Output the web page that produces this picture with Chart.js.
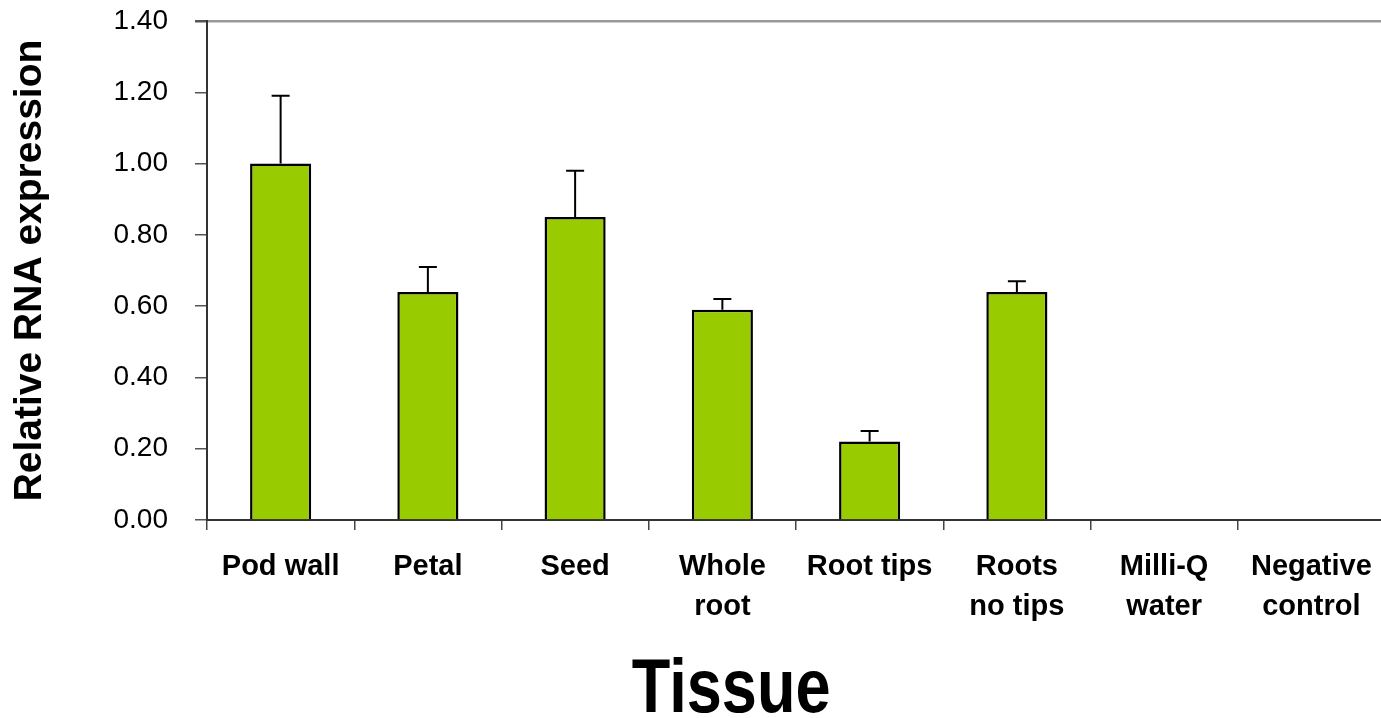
<!DOCTYPE html>
<html>
<head>
<meta charset="utf-8">
<script src="https://cdn.jsdelivr.net/npm/chart.js@4/dist/chart.umd.min.js"></script>
<style>
  html, body { margin: 0; padding: 0; background: #fff; overflow: hidden; }
  #wrap { position: relative; width: 1390px; height: 718px; }
</style>
</head>
<body>
<div id="wrap"><canvas id="chart"></canvas></div>
<script>
// Tissues sampled (multi-line labels as drawn under the axis)
const categories = [
  ['Pod wall'], ['Petal'], ['Seed'], ['Whole', 'root'], ['Root tips'],
  ['Roots', 'no tips'], ['Milli-Q', 'water'], ['Negative', 'control']
];
// Mean relative expression and upper error (SD) per tissue
const expression = [1.00, 0.64, 0.85, 0.59, 0.22, 0.64, 0, 0];
const errorUp    = [0.19, 0.07, 0.13, 0.03, 0.03, 0.03, 0, 0];
// Value axis range and spacing
const yMin = 0, yMax = 1.4, yStep = 0.2;

const FONT = "'Liberation Sans', Arial, Helvetica, sans-serif";

// Draws the upward error whiskers using the chart's own scales
const errorBars = {
  id: 'errorBars',
  afterDatasetsDraw(chart) {
    const meta = chart.getDatasetMeta(0);
    const yScale = chart.scales.y;
    const ctx = chart.ctx;
    ctx.save();
    ctx.strokeStyle = '#000';
    ctx.lineWidth = 2;
    meta.data.forEach((bar, i) => {
      const err = errorUp[i];
      if (!err) return;
      const top = yScale.getPixelForValue(expression[i] + err);
      const base = yScale.getPixelForValue(expression[i]);
      ctx.beginPath();
      ctx.moveTo(bar.x, base);
      ctx.lineTo(bar.x, top);
      ctx.moveTo(bar.x - 9, top);
      ctx.lineTo(bar.x + 9, top);
      ctx.stroke();
    });
    ctx.restore();
  }
};

// Axis caption "Tissue" in a horizontally condensed bold face
const tissueTitle = {
  id: 'tissueTitle',
  afterDraw(chart) {
    const ctx = chart.ctx;
    const a = chart.chartArea;
    const squeeze = 0.83;
    ctx.save();
    ctx.fillStyle = '#000';
    ctx.font = "bold 76px " + FONT;
    ctx.textAlign = 'center';
    ctx.textBaseline = 'alphabetic';
    ctx.translate(a.left + a.width * 0.445, chart.height - 6);
    ctx.scale(squeeze, 1);
    ctx.fillText('Tissue', 0, 0);
    ctx.restore();
  }
};

new Chart(document.getElementById('chart'), {
  type: 'bar',
  data: {
    labels: categories,
    datasets: [{
      data: expression,
      backgroundColor: '#99CC00',
      borderColor: '#000',
      borderWidth: 2.5,
      borderSkipped: 'start',
      categoryPercentage: 1,
      barPercentage: 0.415
    }]
  },
  options: {
    responsive: true,
    maintainAspectRatio: false,
    animation: false,
    layout: { padding: { top: 21, right: 5, left: 0, bottom: 0 } },
    plugins: { legend: { display: false }, tooltip: { enabled: false } },
    scales: {
      x: {
        afterFit(scale) { scale.height = 198; },
        grid: {
          offset: true,
          drawOnChartArea: false,
          drawTicks: true,
          tickLength: 10,
          color: '#444',
          lineWidth: 1.5
        },
        border: { display: true, color: '#333', width: 2 },
        ticks: {
          color: '#000',
          padding: 17,
          maxRotation: 0,
          autoSkip: false,
          font: { family: FONT, size: 29, weight: 'bold', lineHeight: 1.38 }
        }
      },
      y: {
        min: yMin,
        max: yMax,
        afterFit(scale) {
          scale.width = 207;
          scale.paddingTop = 0;
          scale.paddingBottom = 0;
        },
        grid: {
          drawTicks: true,
          tickLength: 12,
          color: ctx => (ctx.tick && ctx.tick.value === yMax ? '#999' : 'rgba(0,0,0,0)'),
          tickColor: '#555',
          lineWidth: ctx => (ctx.tick && ctx.tick.value === yMax ? 2.5 : 1.5)
        },
        border: { display: true, color: '#333', width: 2 },
        ticks: {
          stepSize: yStep,
          color: '#000',
          padding: 27,
          font: { family: FONT, size: 28 },
          callback: v => Number(v).toFixed(2)
        },
        title: {
          display: true,
          text: 'Relative RNA expression',
          color: '#000',
          padding: { top: 7, bottom: 0 },
          font: { family: FONT, size: 39, weight: 'bold', lineHeight: 1.2 }
        }
      }
    }
  },
  plugins: [errorBars, tissueTitle]
});
</script>
</body>
</html>
